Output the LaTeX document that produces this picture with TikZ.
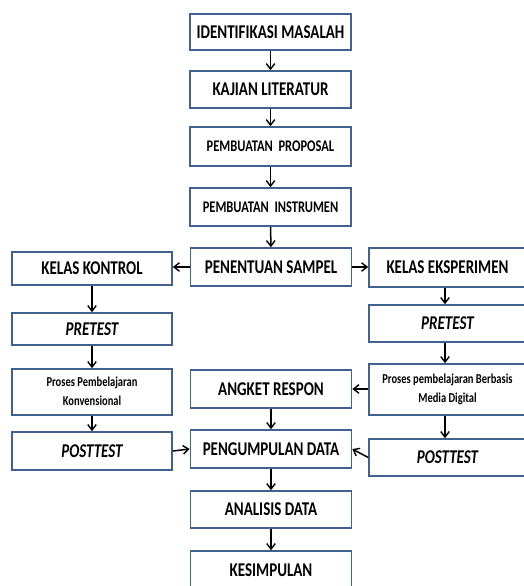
\documentclass[tikz,border=0pt]{standalone}
\usepackage{fontspec}
\setmainfont{Carlito}
\usepackage{graphicx}
\usepackage{xcolor}
\usetikzlibrary{arrows.meta,positioning}
\definecolor{boxline}{HTML}{41628F}
% text in the boxes is drawn a bit taller than wide
\newcommand\tall[1]{\scalebox{1}[1.3]{\begin{tabular}{@{}c@{}}#1\end{tabular}}}

\begin{document}
\begin{tikzpicture}[
    x=1pt, y=1pt,
    >={Straight Barb[length=5.5pt,width=8.5pt,line width=1.4pt]},
    box/.style={rectangle, draw=boxline, line width=1.6pt, fill=white, align=center, inner sep=0pt, text height=12.6pt, text depth=0pt, font=\bfseries\fontsize{15}{17}\selectfont},
    smallbox/.style={box, text height=10.5pt, font=\bfseries\fontsize{12.5}{15}\selectfont},
    tinybox/.style={box, text height=, text depth=, font=\bfseries\fontsize{10.5}{14.5}\selectfont},
    link/.style={->, line width=1.5pt, black}
  ]
    \useasboundingbox (0,0) rectangle (523,-586);
    % middle column
    \node[box, minimum width=161pt, minimum height=36pt] (ident) at (270.5,-32) {\tall{IDENTIFIKASI MASALAH}};
    \node[box, minimum width=161pt, minimum height=37pt] (kajian) at (270.5,-89.5) {\tall{KAJIAN LITERATUR}};
    \node[smallbox, minimum width=161pt, minimum height=39pt] (proposal) at (270.5,-146.5) {\tall{PEMBUATAN\ \ PROPOSAL}};
    \node[smallbox, minimum width=161pt, minimum height=38pt] (instrumen) at (270.5,-207) {\tall{PEMBUATAN\ \ INSTRUMEN}};
    \node[box, minimum width=161pt, minimum height=38pt] (sampel) at (271,-267) {\tall{PENENTUAN SAMPEL}};
    \node[box, minimum width=161pt, minimum height=38pt] (angket) at (271,-389) {\tall{ANGKET RESPON}};
    \node[box, minimum width=161pt, minimum height=38pt] (kumpul) at (271,-449) {\tall{PENGUMPULAN DATA}};
    \node[box, minimum width=161pt, minimum height=37pt] (analisis) at (271,-509.5) {\tall{ANALISIS DATA}};
    \node[box, minimum width=161pt, minimum height=39pt] (simpul) at (271,-570.5) {\tall{KESIMPULAN}};
    % left column
    \node[box, minimum width=160pt, minimum height=33pt] (kontrol) at (92,-268.5) {\tall{KELAS KONTROL}};
    \node[box, minimum width=160pt, minimum height=32pt] (preL) at (92,-329) {\tall{\itshape PRETEST}};
    \node[tinybox, minimum width=160pt, minimum height=46pt] (prosesL) at (92,-392) {\tall{Proses Pembelajaran\\Konvensional}};
    \node[box, minimum width=160pt, minimum height=38pt] (postL) at (92,-451) {\tall{\itshape POSTTEST}};
    % right column
    \node[box, minimum width=157pt, minimum height=39pt] (eksp) at (447.5,-267.5) {\tall{KELAS EKSPERIMEN}};
    \node[box, minimum width=157pt, minimum height=37pt] (preR) at (447.5,-323.5) {\tall{\itshape PRETEST}};
    \node[tinybox, minimum width=157pt, minimum height=51pt] (prosesR) at (447.5,-389.5) {\tall{Proses pembelajaran Berbasis\\Media Digital}};
    \node[box, minimum width=157pt, minimum height=37pt] (postR) at (447.5,-457.5) {\tall{\itshape POSTTEST}};
    % arrows
    \draw[link] (ident) -- (kajian);
    \draw[link] (kajian) -- (proposal);
    \draw[link] (proposal) -- (instrumen);
    \draw[link] (instrumen) -- (sampel);
    \draw[link] (sampel.west) -- (kontrol.east |- sampel.west);
    \draw[link] (sampel.east) -- (eksp.west |- sampel.east);
    \draw[link] (kontrol) -- (preL);
    \draw[link] (preL) -- (prosesL);
    \draw[link] (prosesL) -- (postL);
    \draw[link] (eksp.south -| 445,0) -- (preR.north -| 445,0);
    \draw[link] (preR.south -| 445,0) -- (prosesR.north -| 445,0);
    \draw[link] (prosesR.south -| 445,0) -- (postR.north -| 445,0);
    \draw[link] (prosesR.west |- angket.east) -- (angket.east);
    \draw[link] (postL.east) -- (kumpul.west);
    \draw[link] (postR.west) -- (kumpul.east);
    \draw[link] (angket) -- (kumpul);
    \draw[link] (kumpul) -- (analisis);
    \draw[link] (analisis) -- (simpul);
\end{tikzpicture}
\end{document}
